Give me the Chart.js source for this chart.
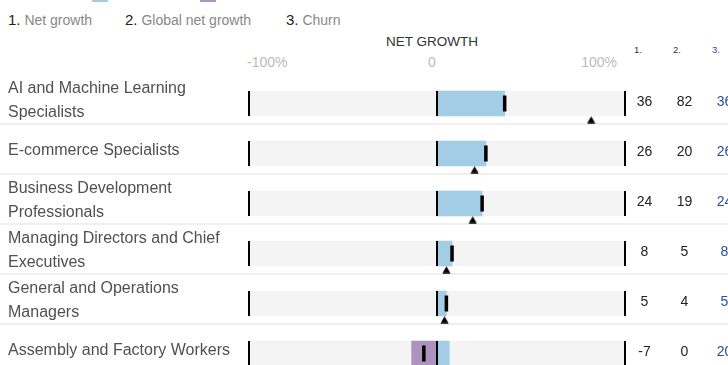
<!DOCTYPE html>
<html>
<head>
<meta charset="utf-8">
<script src="https://cdn.jsdelivr.net/npm/chart.js@4/dist/chart.umd.min.js"></script>
<style>
  html, body { margin: 0; padding: 0; background: #fff; overflow: hidden; }
  body { width: 728px; height: 365px; position: relative; font-family: "Liberation Sans", Arial, Helvetica, sans-serif; }
  #wrap { position: absolute; left: 0; top: 0; width: 728px; height: 400px; }
  .abs { position: absolute; white-space: nowrap; line-height: 1; }
  .sw { position: absolute; top: -8px; width: 16px; height: 10px; }
  .key { font-size: 14px; color: #888; }
  .key b { font-weight: normal; color: #222; font-size: 15px; }
  .title { font-size: 13.5px; color: #333; }
  .tick { font-size: 14px; color: #bbb; }
  .colh { font-size: 9.5px; color: #333; }
</style>
</head>
<body>
<div class="sw" style="left:92px;background:#a2cde5"></div>
<div class="sw" style="left:200px;background:#ad94bf"></div>
<div id="keys"></div>
<div id="header"></div>
<div id="wrap"><canvas id="c"></canvas></div>
<script>
// ---- data ----
const categories = [
  ['AI and Machine Learning', 'Specialists'],
  'E-commerce Specialists',
  ['Business Development', 'Professionals'],
  ['Managing Directors and Chief', 'Executives'],
  ['General and Operations', 'Managers'],
  'Assembly and Factory Workers'
];
const netGrowth       = [36, 26, 24, 8, 5, -7];
const globalNetGrowth = [82, 20, 19, 5, 4, 0];
const churn           = [36, 26, 24, 8, 5, 20];
const gains           = [36, 26, 24, 8, 5, 6.5];
const losses          = [0, 0, 0, 0, 0, -13.5];
const axisRange       = [-100, 100];
const boundaryValues  = [-100, 0, 100];
const tickLabels      = ['-100%', '0', '100%'];
const columnKeys      = ['1.', '2.', '3.'];
const columnNames     = ['Net growth', 'Global net growth', 'Churn'];
const axisTitle       = 'NET GROWTH';

// ---- HTML header text ----
const keys = document.getElementById('keys');
const keyLeft = [8, 125, 286];
columnKeys.forEach((k, i) => {
  const d = document.createElement('div');
  d.className = 'abs key';
  d.style.left = keyLeft[i] + 'px';
  d.style.top = '12px';
  d.innerHTML = '<b>' + k + '</b> ' + columnNames[i];
  keys.appendChild(d);
});
const header = document.getElementById('header');
function addText(cls, txt, css) {
  const d = document.createElement('div');
  d.className = 'abs ' + cls;
  d.textContent = txt;
  Object.assign(d.style, css);
  header.appendChild(d);
  return d;
}
addText('title', axisTitle, { left: '332px', width: '200px', textAlign: 'center', top: '35px' });
addText('tick', tickLabels[0], { left: '247px', top: '55px' });
addText('tick', tickLabels[1], { left: '382px', width: '100px', textAlign: 'center', top: '55px' });
addText('tick', tickLabels[2], { right: (728 - 617) + 'px', top: '55px' });
const colLeft = [634, 673, 712];
columnKeys.forEach((k, i) => {
  addText('colh', k, { left: colLeft[i] + 'px', top: '45px', color: i === 2 ? '#2b4c9b' : '#333' });
});

// ---- custom triangle marker (sits below the band) ----
const tri = document.createElement('canvas');
tri.width = 9; tri.height = 40;
(function () {
  const t = tri.getContext('2d');
  t.fillStyle = '#000';
  t.beginPath();
  t.moveTo(4.5, 20 + 12.8);
  t.lineTo(8.5, 20 + 19.7);
  t.lineTo(0.5, 20 + 19.7);
  t.closePath();
  t.fill();
})();

const FONT = '"Liberation Sans", Arial, Helvetica, sans-serif';

const rowDecor = {
  id: 'rowDecor',
  beforeDatasetsDraw(chart) {
    const ctx = chart.ctx, ys = chart.scales.y;
    ctx.save();
    ctx.fillStyle = '#efefef';
    categories.forEach((_, i) => {
      const c = ys.getPixelForValue(i);
      ctx.fillRect(0, c + 19.5, chart.width, 2);
    });
    ctx.restore();
  },
  afterDatasetsDraw(chart) {
    const ctx = chart.ctx, xs = chart.scales.x, ys = chart.scales.y;
    ctx.save();
    ctx.fillStyle = '#000';
    categories.forEach((_, i) => {
      const c = ys.getPixelForValue(i);
      boundaryValues.forEach(v => {
        const px = xs.getPixelForValue(v);
        ctx.fillRect(px - 1, c - 12.5, 2, 25);
      });
    });
    // value columns
    ctx.font = '14px ' + FONT;
    ctx.textAlign = 'center';
    ctx.textBaseline = 'alphabetic';
    const cols = [netGrowth, globalNetGrowth, churn];
    const colX = [644.5, 684.5, 724.5];
    const colColor = ['#222', '#222', '#2b4c9b'];
    categories.forEach((_, i) => {
      const c = ys.getPixelForValue(i);
      cols.forEach((arr, k) => {
        ctx.fillStyle = colColor[k];
        ctx.fillText(String(arr[i]), colX[k], c + 2.5);
      });
    });
    ctx.restore();
  }
};

new Chart(document.getElementById('c'), {
  type: 'bar',
  data: {
    labels: categories,
    datasets: [
      { label: 'band', indexAxis: 'y', data: categories.map(() => axisRange.slice()), backgroundColor: '#f4f4f4', order: 5 },
      { label: 'gains', indexAxis: 'y', data: gains.map(v => [0, v]), backgroundColor: '#a2cde5', order: 4 },
      { label: 'losses', indexAxis: 'y', data: losses.map(v => [v, 0]), backgroundColor: '#ad94bf', order: 4 },
      { label: 'Net growth', type: 'line', indexAxis: 'y', data: netGrowth, showLine: false,
        pointStyle: 'line', rotation: 90, pointRadius: 8, pointBorderWidth: 3.5,
        pointBorderColor: '#000', pointBackgroundColor: '#000', order: 2 },
      { label: 'Global net growth', type: 'line', indexAxis: 'y', data: globalNetGrowth, showLine: false,
        pointStyle: tri, pointRadius: 5, order: 1 }
    ]
  },
  options: {
    indexAxis: 'y',
    responsive: true,
    maintainAspectRatio: false,
    animation: false,
    events: [],
    layout: { padding: { left: 8, right: 103, top: 78.5, bottom: 21.5 } },
    datasets: { bar: { barThickness: 25, grouped: false, borderWidth: 0 } },
    plugins: { legend: { display: false }, tooltip: { enabled: false } },
    scales: {
      x: { type: 'linear', min: axisRange[0], max: axisRange[1], display: false },
      y: {
        type: 'category',
        grid: { display: false },
        border: { display: false },
        afterFit(scale) {
          scale.width = 241;
          scale.paddingTop = 0;
          scale.paddingBottom = 0;
        },
        ticks: {
          autoSkip: false,
          crossAlign: 'far',
          labelOffset: -2.5,
          color: '#505050',
          font: { family: FONT, size: 16, lineHeight: 1.5 },
          padding: 0
        }
      }
    }
  },
  plugins: [rowDecor]
});
</script>
</body>
</html>
